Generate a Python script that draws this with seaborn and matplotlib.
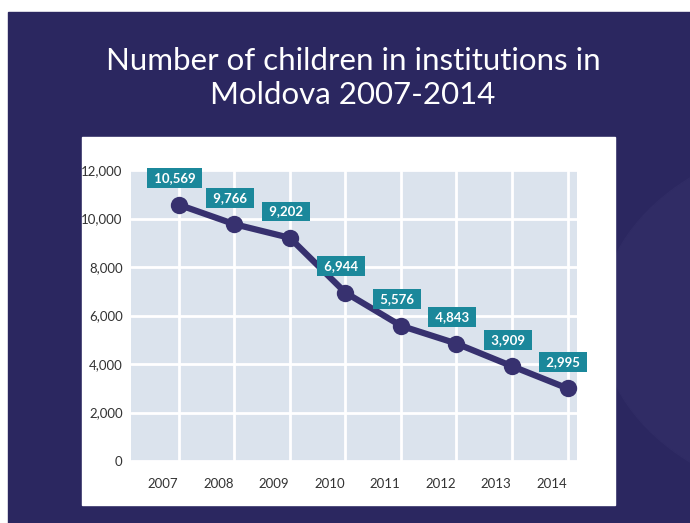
import matplotlib

matplotlib.use("Agg")
import matplotlib.pyplot as plt
import matplotlib.transforms as mtransforms
import pandas as pd
import seaborn as sns
from matplotlib.patches import Circle, Rectangle

# data
years = [2007, 2008, 2009, 2010, 2011, 2012, 2013, 2014]
children = [10569, 9766, 9202, 6944, 5576, 4843, 3909, 2995]
y_ticks = [0, 2000, 4000, 6000, 8000, 10000, 12000]

title = "Number of children in institutions in\nMoldova 2007-2014"

BG = "#2b2760"
PANEL = "#dbe3ed"
LINE = "#37316f"
TEAL = "#1b889b"

sns.set_style("white")
plt.rcParams["font.family"] = ["Lato", "DejaVu Sans"]

df = pd.DataFrame({"year": years, "children": children})

W, H = 690, 523
fig = plt.figure(figsize=(W / 100, H / 100), dpi=100, facecolor="white")

# dark slide background + faint swoosh + white chart card
fig.patches.append(
    Rectangle((8 / W, 0), 1, 1 - 12 / H, transform=fig.transFigure, color=BG, zorder=0)
)
swoosh = Circle((840 / W, 1 - 320 / H), 240 / W, transform=fig.transFigure,
                color="#302c65", zorder=0.5)
swoosh.set_clip_path(fig.patches[0])
fig.patches.append(swoosh)
fig.patches.append(
    Rectangle((82 / W, 1 - 505 / H), 533 / W, 368 / H, transform=fig.transFigure,
              color="white", zorder=1)
)

fig.text(353 / W, 1 - 78 / H, title, ha="center", va="center", color="white",
         fontsize=22.5, linespacing=1.25, zorder=3)

ax = fig.add_axes([131 / W, 1 - 461 / H, 446 / W, 291 / H], zorder=2)
ax.set_facecolor(PANEL)

sns.lineplot(data=df, x="year", y="children", ax=ax, color=LINE, linewidth=4.5,
             marker="o", markersize=12.5, markeredgewidth=0, zorder=3)

for x, y in zip(years, children):
    ax.annotate(f" {y:,} ", (x, y), xytext=(-3, 19), textcoords="offset points",
                ha="center", va="center", color="white", fontsize=9.5,
                fontweight="bold", zorder=4,
                bbox=dict(boxstyle="square,pad=0.3", fc=TEAL, ec="none"))

ax.set_xlim(2006.14, 2014.17)
ax.set_ylim(0, 12000)
ax.set_xticks(years)
ax.set_xticklabels([str(y) for y in years])
ax.set_yticks(y_ticks)
ax.set_yticklabels([f"{v:,}" for v in y_ticks])
ax.grid(True, color="white", linewidth=2)
ax.set_axisbelow(True)
ax.tick_params(length=0, labelsize=9.5, colors="#333333", pad=6)
ax.tick_params(axis="x", pad=12)
shift = mtransforms.ScaledTranslation(-16 / 100, 0, fig.dpi_scale_trans)
for lbl in ax.get_xticklabels():
    lbl.set_transform(lbl.get_transform() + shift)
ax.set_xlabel("")
ax.set_ylabel("")
sns.despine(ax=ax, left=True, bottom=True)

fig.savefig("out.png", dpi=100, facecolor=fig.get_facecolor())
